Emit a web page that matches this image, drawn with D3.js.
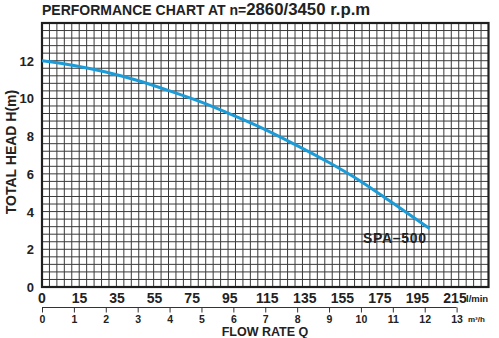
<!DOCTYPE html>
<html>
<head>
<meta charset="utf-8">
<script src="https://cdn.jsdelivr.net/npm/d3@7/dist/d3.min.js"></script>
<style>
  html, body { margin: 0; padding: 0; background: #fff; }
  svg { display: block; font-family: "Liberation Sans", Arial, sans-serif; font-weight: bold; }
</style>
</head>
<body>
<svg id="chart" width="499" height="338"></svg>
<script>
// Pump curve SPA-500: flow (m³/h) vs total head (m)
const flowM3h = [0, 1, 2, 3, 4, 5, 6, 7, 8, 9, 10, 11, 12.15];
const headM   = [12.0, 11.75, 11.4, 10.95, 10.4, 9.8, 9.1, 8.35, 7.5, 6.6, 5.6, 4.45, 3.1];

const headTicks = [0, 2, 4, 6, 8, 10, 12];
const lpmTicks  = [0, 15, 35, 55, 75, 95, 115, 135, 155, 175, 195, 215];
const m3hTicks  = [0, 1, 2, 3, 4, 5, 6, 7, 8, 9, 10, 11, 12, 13];

const svg = d3.select("#chart");

const x = d3.scaleLinear().domain([0, 14]).range([42, 488.5]);
const y = d3.scaleLinear().domain([0, 14]).range([287, 23]);
// l/min labels sit on their own evenly spaced scale
const xLpm = d3.scaleLinear().domain([0, 15, 215]).range([42, 79.5, 455]);

// grid: 60 columns, 35 rows
const grid = svg.append("g").attr("stroke", "#3a3a3a").attr("stroke-width", 1);
d3.range(1, 60).forEach(i => {
  const gx = x(i * 14 / 60);
  grid.append("line").attr("x1", gx).attr("x2", gx).attr("y1", y(14)).attr("y2", y(0));
});
d3.range(1, 35).forEach(i => {
  const gy = y(i * 0.4);
  grid.append("line").attr("x1", x(0)).attr("x2", x(14)).attr("y1", gy).attr("y2", gy);
});

// frame
svg.append("rect")
  .attr("x", x(0)).attr("y", y(14))
  .attr("width", x(14) - x(0)).attr("height", y(0) - y(14))
  .attr("fill", "none").attr("stroke", "#1e1e1e").attr("stroke-width", 2.2);

// head curve
const line = d3.line()
  .x((d, i) => x(flowM3h[i]))
  .y(d => y(d))
  .curve(d3.curveMonotoneX);
svg.append("path")
  .datum(headM)
  .attr("d", line)
  .attr("fill", "none")
  .attr("stroke", "#1b9bd7")
  .attr("stroke-width", 3);

svg.append("text")
  .attr("x", 363).attr("y", 243)
  .attr("font-size", 14).attr("fill", "#222")
  .attr("letter-spacing", 0.7)
  .text("SPA–500");

// title
const title = svg.append("text").attr("x", 42).attr("y", 15).attr("fill", "#222");
title.append("tspan").attr("font-size", 14).text("PERFORMANCE CHART AT n=");
title.append("tspan").attr("font-size", 16.8).text("2860/3450 r.p.m");

// head axis labels
svg.append("g").selectAll("text")
  .data(headTicks).join("text")
  .attr("x", 34).attr("y", d => y(d) + 5)
  .attr("text-anchor", "end")
  .attr("font-size", 13).attr("fill", "#222")
  .text(d => d);

svg.append("text")
  .attr("transform", "translate(16,152) rotate(-90)")
  .attr("text-anchor", "middle")
  .attr("font-size", 14).attr("fill", "#222")
  .text("TOTAL HEAD H(m)");

// l/min labels
svg.append("g").selectAll("text")
  .data(lpmTicks).join("text")
  .attr("x", d => xLpm(d)).attr("y", 303)
  .attr("text-anchor", "middle")
  .attr("font-size", 14).attr("fill", "#222")
  .text(d => d);
svg.append("text")
  .attr("x", 466).attr("y", 302)
  .attr("font-size", 9.5).attr("fill", "#222")
  .text("l/min");

// m³/h axis
const axisM3h = d3.axisBottom(x).tickValues(m3hTicks).tickSize(5).tickPadding(3).tickFormat(d => d);
const gm = svg.append("g").attr("transform", "translate(0,307.5)").call(axisM3h);
gm.select(".domain").attr("d", `M${x(0)},0H${x(13)}`).attr("stroke", "#333");
gm.selectAll(".tick line").attr("stroke", "#333");
gm.selectAll(".tick text")
  .attr("font-size", 10.5).attr("font-family", "Liberation Sans, Arial, sans-serif")
  .attr("font-weight", "bold").attr("fill", "#222");
svg.append("text")
  .attr("x", 468).attr("y", 322)
  .attr("font-size", 8).attr("fill", "#222")
  .text("m³/h");

svg.append("text")
  .attr("x", 265).attr("y", 336)
  .attr("text-anchor", "middle")
  .attr("font-size", 12.5).attr("fill", "#222")
  .text("FLOW RATE Q");
</script>
</body>
</html>
